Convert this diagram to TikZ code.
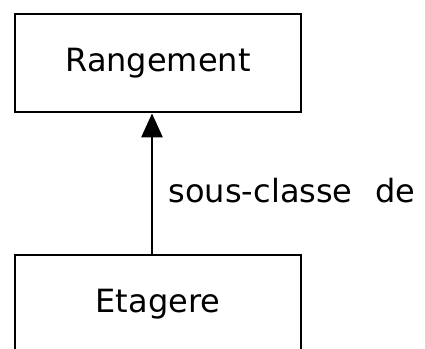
\documentclass[tikz,border=0pt]{standalone}
\usepackage{fontspec}
\setmainfont{DejaVu Sans}
\usetikzlibrary{arrows.meta}
\tikzset{
  classe/.style={draw, line width=2.8pt, minimum width=286pt, minimum height=98pt, inner sep=0pt, font=\fontsize{32}{38}\selectfont},
  fleche/.style={line width=2.8pt, -{Triangle[length=24pt,width=21pt]}}
}

\begin{document}
\begin{tikzpicture}[x=1pt,y=1pt]
                \clip (0,0) rectangle (425,-348);
                \fill[white] (0,0) rectangle (425,-348);
                \node[classe] (rangement) at (158,-63) {Rangement};
                \node[classe] (etagere) at (158,-304) {Etagere};
                \draw[fleche] ([xshift=-6pt]etagere.north) -- ([xshift=-6pt]rangement.south)
                  node[pos=0.45, anchor=west, xshift=12pt, font=\fontsize{32}{38}\selectfont] (lien) {sous-classe\hspace{0.7em}de};
            \end{tikzpicture}
\end{document}
